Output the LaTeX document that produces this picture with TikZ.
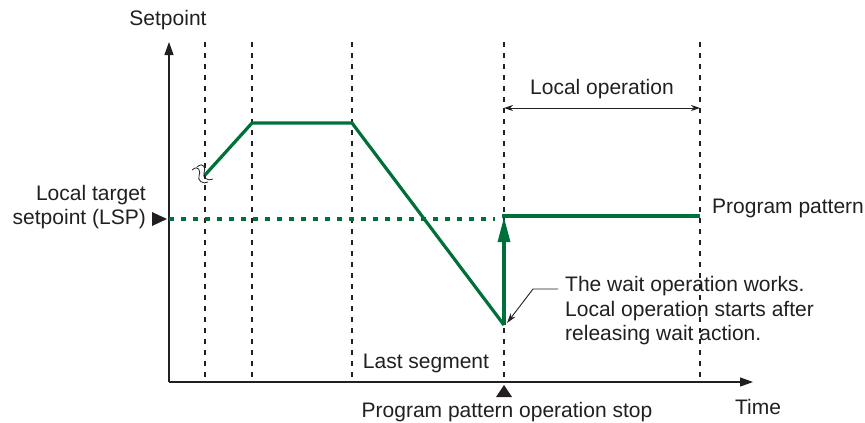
\documentclass[tikz,border=0pt]{standalone}
\usepackage{fontspec}
\setmainfont{Liberation Sans}
\usetikzlibrary{positioning, arrows.meta, calc}
\definecolor{ink}{RGB}{35,31,32}
\definecolor{pgreen}{RGB}{0,112,58}

\begin{document}
\begin{tikzpicture}[x=1pt, y=-1pt,
    every node/.style={font=\fontsize{21}{24.5}\selectfont, text=ink, inner sep=0pt},
    guide/.style={ink, line width=1.1pt, dash pattern=on 5pt off 6pt},
    prog/.style={pgreen, line width=3.2pt},
    lspline/.style={pgreen, line width=3.2pt, dash pattern=on 5pt off 7pt},
    axisline/.style={ink, line width=1.2pt, -{Triangle[length=13pt, width=9pt]}},
    span/.style={ink, line width=1pt, {Stealth[length=9pt, width=6pt]}-{Stealth[length=9pt, width=6pt]}},
    lead/.style={ink, line width=0.9pt, -{Stealth[length=10pt, width=6pt]}}]

  \useasboundingbox (0,0) rectangle (865,423);

  % axes
  \coordinate (o) at (169,382);
  \coordinate (ytip) at (169,42);
  \coordinate (xtip) at (753,382);
  \draw[axisline] (o) -- (ytip);
  \draw[axisline] (o) -- (xtip);

  % segment boundaries
  \foreach \gx in {205,252,352,504,700}
    \draw[guide] (\gx,42) -- (\gx,382);

  % program pattern
  \coordinate (p0) at (205,175);
  \coordinate (p1) at (252,123);
  \coordinate (p2) at (352,123);
  \coordinate (p3) at (504,325);
  \coordinate (p4) at (504,216);
  \coordinate (p5) at (700,216);
  \draw[lspline] (169,219) -- (495,219);
  \draw[prog, line join=miter] (p0) -- (p1) -- (p2) -- (p3);
  \draw[prog, -{Triangle[length=25pt, width=12pt]}] (p3) -- (504,217);
  \draw[prog] ($(p4)+(-1.6,0)$) -- (p5);

  % break mark
  \draw[ink, line width=0.8pt] (192,170) .. controls (199,164) and (201,172) .. (199,176)
    .. controls (197,180) and (203,185) .. (208,182);
  \draw[ink, line width=0.8pt] (197,167) .. controls (204,161) and (206,169) .. (204,173)
    .. controls (202,177) and (208,182) .. (213,179);

  % labels
  \node (setpt) at (168,20) {Setpoint};
  \node[align=right, anchor=east] (lsp) at (146,207) {Local target\\setpoint (LSP)};
  \fill[ink] (152,212) -- (167,219) -- (152,226) -- cycle;
  \node[anchor=west] (pattern) at (712,208) {Program pattern};

  \draw[span] (504,108) -- (700,108);
  \node (localop) at (602,89) {Local operation};

  \node[align=left, anchor=west] (waitnote) at (565,311)
    {The wait operation works.\\Local operation starts after\\releasing wait action.};
  \coordinate (leadstart) at (558,289);
  \coordinate (leadtip) at (507,323);
  \draw[lead] (leadstart) -- (533,289) -- (leadtip);

  \node (lastseg) at (426,363) {Last segment};
  \fill[ink] (504,385) -- (512,397) -- (496,397) -- cycle;
  \node (stop) at (507,412) {Program pattern operation stop};
  \node (time) at (758,407) {Time};
\end{tikzpicture}
\end{document}
